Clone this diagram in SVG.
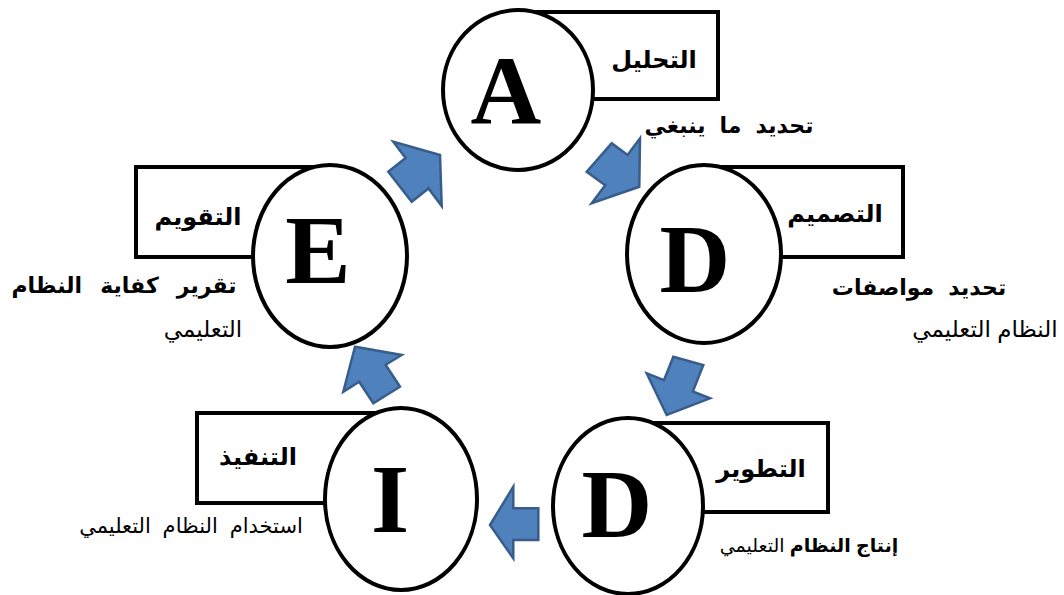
<svg xmlns="http://www.w3.org/2000/svg" width="1064" height="595" viewBox="0 0 1064 595">
<style>
.box{fill:#fff;stroke:#000;stroke-width:4}
.ring{fill:#fff;stroke:#000;stroke-width:4}
.letter{font-family:"Liberation Serif","Times New Roman",serif;font-weight:bold;font-size:98px;text-anchor:middle;fill:#000}
.title{font-family:"Liberation Sans","DejaVu Sans",sans-serif;font-weight:bold;font-size:24px;text-anchor:middle;fill:#000}
.sub{font-family:"Liberation Sans","DejaVu Sans",sans-serif;font-size:22px;text-anchor:middle;fill:#000}
.b{font-weight:bold}
.arrow{fill:#4F81BD;stroke:#385D8A;stroke-width:2.5;stroke-linejoin:miter}
</style>
<rect width="1064" height="595" fill="#fff"/>
<g id="node-A">
<rect class="box" x="520" y="12" width="198" height="87"/>
<ellipse class="ring" cx="518" cy="90" rx="75" ry="80"/>
<text class="letter" x="506" y="123">A</text>
<text class="title" x="654" y="68">التحليل</text>
<text class="sub b" x="729" y="133" word-spacing="8">تحديد ما ينبغي</text>
</g>
<g id="node-D1">
<rect class="box" x="700" y="167" width="203" height="90"/>
<ellipse class="ring" cx="704" cy="254" rx="77" ry="89"/>
<text class="letter" x="695" y="292">D</text>
<text class="title" x="835" y="222">التصميم</text>
<text class="sub b" x="919" y="295" word-spacing="8">تحديد مواصفات</text>
<text class="sub" x="985" y="337" style="font-size:23px">النظام التعليمي</text>
</g>
<g id="node-D2">
<rect class="box" x="628" y="423" width="200" height="89"/>
<ellipse class="ring" cx="628" cy="506" rx="75" ry="88"/>
<text class="letter" x="617" y="537">D</text>
<text class="title" x="761" y="477">التطوير</text>
<text class="sub" x="809" y="552" style="font-size:19px"><tspan class="b">إنتاج النظام</tspan> التعليمي</text>
</g>
<g id="node-I">
<rect class="box" x="197" y="413" width="200" height="90"/>
<ellipse class="ring" cx="401" cy="499" rx="76" ry="91"/>
<text class="letter" x="390" y="532">I</text>
<text class="title" x="258" y="465">التنفيذ</text>
<text class="sub" x="191" y="533" word-spacing="6" style="font-size:21px">استخدام النظام التعليمي</text>
</g>
<g id="node-E">
<rect class="box" x="136" y="167" width="194" height="90"/>
<ellipse class="ring" cx="330" cy="256" rx="77" ry="91"/>
<text class="letter" x="318" y="283">E</text>
<text class="title" x="198" y="225">التقويم</text>
<text class="sub b" x="124" y="293" word-spacing="12">تقرير كفاية النظام</text>
<text class="sub" x="203" y="337" style="font-size:23px">التعليمي</text>
</g>
<g id="connectors">
<polygon class="arrow" points="639.3,186.7 591.7,203.3 605.2,185.2 586.7,171.7 611.7,143.3 627.6,154.9 640,138.3"/>
<polygon class="arrow" points="666.7,415 646.7,373.3 664,380.1 673.3,356.7 703.3,365 692.8,391.5 710,398.3"/>
<polygon class="arrow" points="490,525 513.3,486.7 513.3,508.3 538.3,508.3 538.3,540 513.3,540 513.3,558.3"/>
<polygon class="arrow" points="355,346.7 343.3,391.7 359.2,381.7 373.3,403.3 400,386.7 385.6,364.8 401.7,355"/>
<polygon class="arrow" points="440,155 393.3,141.7 405.6,158 388.3,171.7 411.7,201.7 428.5,188.4 441.7,206"/>
</g>
</svg>
